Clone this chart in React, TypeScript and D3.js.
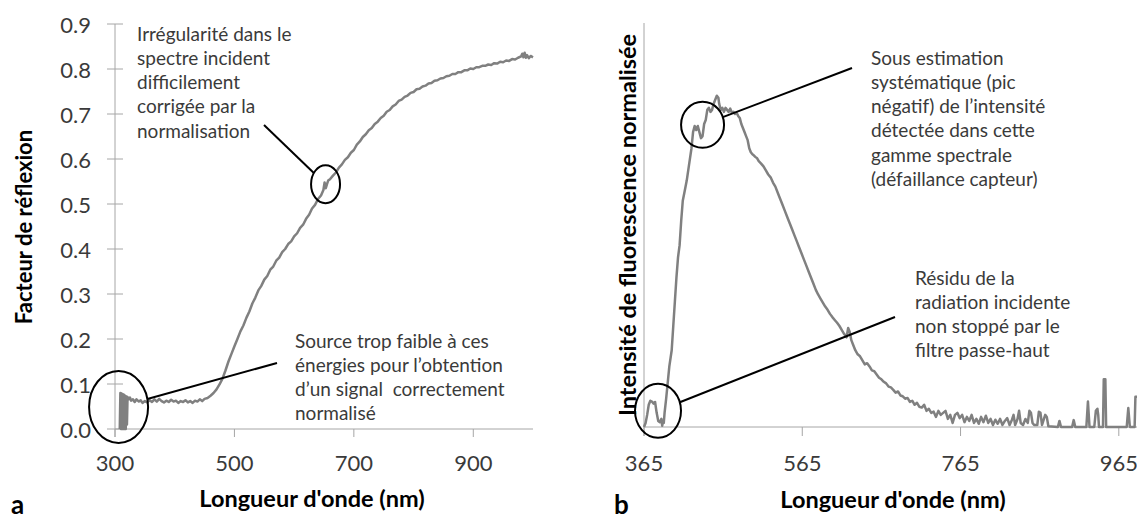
import React from "react";
import * as d3 from "d3";

// ---------- Data ----------
// Panel a: reflectance factor vs wavelength (nm)
const reflectance: [number, number][] = [
  [308, 0], [309, 0.08], [310, 0], [311, 0.079], [312, 0], [313, 0.077], [314, 0], [315, 0.076],
  [316, 0], [317, 0.074], [318, 0], [319, 0.072], [320, 0.01], [321, 0.071],
  [323, 0.066], [325, 0.07], [327, 0.063], [330, 0.066], [333, 0.06], [336, 0.066], [340, 0.061],
  [343, 0.064], [346, 0.058], [350, 0.062], [354, 0.059], [358, 0.064], [362, 0.06], [366, 0.066],
  [370, 0.061], [374, 0.067], [378, 0.062], [382, 0.059], [386, 0.063], [390, 0.06], [394, 0.065],
  [398, 0.061], [402, 0.063], [406, 0.058], [410, 0.062], [414, 0.06], [418, 0.064], [422, 0.059],
  [426, 0.062], [430, 0.058], [434, 0.063], [438, 0.061], [442, 0.066], [446, 0.062], [450, 0.067],
  [455, 0.069], [460, 0.074], [465, 0.08], [470, 0.088], [475, 0.099], [480, 0.112], [485, 0.13],
  [490, 0.15], [495, 0.167], [500, 0.184], [505, 0.2], [510, 0.217], [515, 0.23], [520, 0.247],
  [525, 0.261], [530, 0.279], [535, 0.292], [540, 0.308], [545, 0.318], [550, 0.332], [555, 0.34],
  [560, 0.354], [565, 0.361], [570, 0.374], [575, 0.381], [580, 0.393], [585, 0.4], [590, 0.411],
  [595, 0.417], [600, 0.428], [605, 0.435], [610, 0.447], [615, 0.454], [620, 0.467], [625, 0.476],
  [630, 0.49], [635, 0.498], [640, 0.511], [645, 0.519], [649, 0.531], [651, 0.548], [653, 0.535],
  [655, 0.544], [657, 0.552], [660, 0.555], [665, 0.563], [670, 0.57], [675, 0.581], [680, 0.588],
  [685, 0.598], [690, 0.604], [695, 0.614], [700, 0.62], [705, 0.632], [710, 0.639], [715, 0.649],
  [720, 0.655], [725, 0.664], [730, 0.669], [735, 0.678], [740, 0.683], [745, 0.691], [750, 0.696],
  [755, 0.705], [760, 0.709], [765, 0.717], [770, 0.721], [775, 0.729], [780, 0.732], [785, 0.738],
  [790, 0.741], [795, 0.747], [800, 0.749], [805, 0.755], [810, 0.756], [815, 0.761], [820, 0.763],
  [825, 0.768], [830, 0.769], [835, 0.774], [840, 0.775], [845, 0.779], [850, 0.78], [855, 0.784],
  [860, 0.785], [865, 0.789], [870, 0.789], [875, 0.793], [880, 0.793], [885, 0.797], [890, 0.797],
  [895, 0.801], [900, 0.8], [905, 0.804], [910, 0.804], [915, 0.807], [920, 0.807], [925, 0.81],
  [930, 0.809], [935, 0.813], [940, 0.812], [945, 0.816], [950, 0.815], [955, 0.819], [960, 0.818],
  [965, 0.822], [970, 0.821], [975, 0.825], [980, 0.828], [982, 0.834], [984, 0.826], [986, 0.836],
  [988, 0.825], [990, 0.831], [993, 0.824], [996, 0.829], [1000, 0.826],
];
const reflXTicks = [300, 500, 700, 900];
const reflYTicks = [0, 0.1, 0.2, 0.3, 0.4, 0.5, 0.6, 0.7, 0.8, 0.9];

// Panel b: normalised fluorescence intensity vs wavelength (nm)
const fluorescence: [number, number][] = [
  [365, 0], [367, 0.01], [369, 0.03], [371, 0.055], [373, 0.065], [375, 0.063], [377, 0.058],
  [379, 0.062], [381, 0.035], [383, 0.015], [385, 0.012], [387, 0.02], [388, 0.003], [389, 0.015],
  [390, 0.01], [391, 0.035], [393, 0.07], [395, 0.11], [397, 0.15], [400, 0.19], [402, 0.25],
  [404, 0.31], [406, 0.37], [408, 0.42], [410, 0.45], [412, 0.51], [414, 0.56], [416, 0.58],
  [419, 0.61], [422, 0.65], [425, 0.69], [427, 0.73], [429, 0.745], [431, 0.735], [433, 0.745],
  [435, 0.73], [437, 0.715], [439, 0.72], [441, 0.75], [443, 0.76], [445, 0.785], [447, 0.79],
  [449, 0.78], [451, 0.785], [453, 0.8], [455, 0.81], [457, 0.82], [459, 0.815], [460, 0.8],
  [462, 0.785], [464, 0.79], [466, 0.78], [468, 0.79], [470, 0.785], [472, 0.78], [474, 0.788],
  [476, 0.778], [478, 0.78], [480, 0.775], [482, 0.778], [484, 0.77], [486, 0.765], [488, 0.75],
  [490, 0.74], [492, 0.73], [494, 0.72], [496, 0.71], [498, 0.69], [500, 0.68], [502, 0.675],
  [504, 0.672], [506, 0.668], [508, 0.665], [510, 0.658], [513, 0.652], [516, 0.645], [519, 0.635],
  [522, 0.625], [525, 0.618], [528, 0.605], [531, 0.595], [534, 0.58], [537, 0.565], [540, 0.55],
  [543, 0.535], [546, 0.52], [549, 0.505], [552, 0.49], [555, 0.475], [558, 0.46], [561, 0.445],
  [564, 0.43], [567, 0.415], [570, 0.4], [573, 0.385], [576, 0.37], [579, 0.355], [582, 0.34],
  [585, 0.328], [588, 0.318], [591, 0.308], [594, 0.298], [597, 0.29], [600, 0.28], [603, 0.272],
  [606, 0.265], [609, 0.258], [612, 0.25], [615, 0.24], [618, 0.23], [621, 0.222], [623, 0.245],
  [625, 0.235], [627, 0.215], [629, 0.205], [632, 0.19], [635, 0.18], [638, 0.175], [641, 0.165],
  [644, 0.155], [647, 0.158], [650, 0.15], [653, 0.14], [656, 0.138], [659, 0.13], [662, 0.122],
  [665, 0.118], [668, 0.112], [671, 0.108], [674, 0.1], [677, 0.098], [680, 0.092], [683, 0.085],
  [686, 0.088], [689, 0.078], [692, 0.076], [695, 0.07], [698, 0.072], [701, 0.062], [704, 0.065],
  [707, 0.055], [710, 0.06], [713, 0.05], [716, 0.048], [719, 0.055], [722, 0.04], [725, 0.045],
  [728, 0.035], [731, 0.038], [734, 0.025], [737, 0.04], [740, 0.03], [743, 0.035], [746, 0.04],
  [749, 0.02], [752, 0.03], [755, 0.01], [758, 0.03], [761, 0.035], [764, 0.022], [767, 0.03],
  [770, 0.012], [773, 0.025], [776, 0.015], [779, 0.03], [782, 0.01], [785, 0.02], [788, 0.008],
  [791, 0.025], [794, 0.012], [797, 0.028], [800, 0.01], [803, 0.02], [806, 0.005], [809, 0.018],
  [812, 0.008], [815, 0.02], [818, 0.005], [821, 0.015], [824, 0.022], [827, 0.005], [830, 0.018],
  [832, 0.03], [834, 0.005], [837, 0.02], [839, 0.04], [841, 0.01], [844, 0.005], [847, 0.02],
  [850, 0.01], [852, 0.04], [854, 0.035], [856, 0.01], [858, 0.005], [862, 0.005], [864, 0.038],
  [866, 0.035], [868, 0.005], [872, 0.03], [874, 0.025], [876, 0.002], [888, 0], [890, 0.015],
  [892, 0], [906, 0], [908, 0.017], [910, 0], [924, 0], [926, 0.063], [928, 0], [934, 0],
  [936, 0.04], [938, 0.045], [939, 0.03], [940, 0], [945, 0], [946, 0.118], [948, 0.118],
  [949, 0], [975, 0], [977, 0.047], [979, 0], [985, 0], [986, 0.075], [988, 0.075],
];
const fluoXTicks = [365, 565, 765, 965];

// Annotation texts
const noteIrregularity = ["Irrégularité dans le", "spectre incident", "difficilement", "corrigée par la", "normalisation"];
const noteSource = ["Source trop faible à ces", "énergies pour l’obtention", "d’un signal  correctement", "normalisé"];
const noteUnder = ["Sous estimation", "systématique (pic", "négatif) de l’intensité", "détectée dans cette", "gamme spectrale", "(défaillance capteur)"];
const noteResidue = ["Résidu de la", "radiation incidente", "non stoppé par le", "filtre passe-haut"];

// ---------- Styling ----------
const FONT = "Lato, 'Open Sans', sans-serif";
const CURVE = "#808080";
const AXIS = "#a6a6a6";
const TEXT = "#3a3a3a";
const LINE_H = 24.3;

type Ann = {
  lines: string[];
  tx: number;
  ty: number;
  anchor: [number, number];
  cx: number;
  cy: number;
  rx: number;
  ry: number;
};

function Annotation({ a }: { a: Ann }) {
  const dx = a.anchor[0] - a.cx;
  const dy = a.anchor[1] - a.cy;
  const s = 1 / Math.sqrt((dx / a.rx) ** 2 + (dy / a.ry) ** 2);
  const ex = a.cx + dx * s;
  const ey = a.cy + dy * s;
  return (
    <g>
      <ellipse cx={a.cx} cy={a.cy} rx={a.rx} ry={a.ry} fill="none" stroke="#000" strokeWidth={2} />
      <line x1={a.anchor[0]} y1={a.anchor[1]} x2={ex} y2={ey} stroke="#000" strokeWidth={2} />
      <text fontFamily={FONT} fontSize={19} fill={TEXT}>
        {a.lines.map((l, i) => (
          <tspan key={i} x={a.tx} y={a.ty + i * LINE_H} dominantBaseline="central" style={{ whiteSpace: "pre" }}>
            {l}
          </tspan>
        ))}
      </text>
    </g>
  );
}

export default function App() {
  const W = 1137;
  const H = 519;

  // Panel a scales
  const xa = d3.scaleLinear().domain([300, 1000]).range([115, 533]);
  const ya = d3.scaleLinear().domain([0, 0.9]).range([429, 24]);
  const lineA = d3
    .line<[number, number]>()
    .x((d) => xa(d[0]))
    .y((d) => ya(d[1]));

  // Panel b scales
  const xb = d3.scaleLinear().domain([365, 988]).range([644, 1137]);
  const yb = d3.scaleLinear().domain([0, 1]).range([427, 23]);
  const lineB = d3
    .line<[number, number]>()
    .x((d) => xb(d[0]))
    .y((d) => yb(d[1]));

  const fmt = d3.format(".1f");

  const anns: Ann[] = [
    {
      lines: noteIrregularity,
      tx: 137,
      ty: 33,
      anchor: [264, 125],
      cx: xa(652.6),
      cy: ya(0.544),
      rx: 14.5,
      ry: 19,
    },
    {
      lines: noteSource,
      tx: 295,
      ty: 340,
      anchor: [277, 363],
      cx: xa(306),
      cy: ya(0.049),
      rx: 29.5,
      ry: 36,
    },
    {
      lines: noteUnder,
      tx: 871,
      ty: 57,
      anchor: [852, 68],
      cx: xb(439),
      cy: yb(0.748),
      rx: 21.5,
      ry: 23,
    },
    {
      lines: noteResidue,
      tx: 915,
      ty: 277,
      anchor: [895, 317],
      cx: xb(382.7),
      cy: yb(0.04),
      rx: 23,
      ry: 27,
    },
  ];

  return (
    <svg width={W} height={H} style={{ position: "absolute", left: 0, top: 0, background: "#fff" }}>
      {/* ---------- Panel a ---------- */}
      <g>
        <line x1={xa(300)} x2={xa(300)} y1={ya(0.9)} y2={ya(0) + 8} stroke={AXIS} strokeWidth={1} />
        {reflYTicks.map((t) => (
          <g key={t}>
            <line x1={xa(300) - 8} x2={xa(300) + 8} y1={ya(t)} y2={ya(t)} stroke={AXIS} strokeWidth={1} />
            <text
              x={91}
              y={ya(t)}
              textAnchor="end"
              dominantBaseline="central"
              fontFamily={FONT}
              fontSize={22}
              fill={TEXT}
            >
              {fmt(t)}
            </text>
          </g>
        ))}
        <line x1={xa(300)} x2={xa(1000)} y1={ya(0)} y2={ya(0)} stroke={AXIS} strokeWidth={1} />
        {reflXTicks.map((t) => (
          <g key={t}>
            <line x1={xa(t)} x2={xa(t)} y1={ya(0)} y2={ya(0) + 8} stroke={AXIS} strokeWidth={1} />
            <text
              x={xa(t)}
              y={462}
              textAnchor="middle"
              dominantBaseline="central"
              fontFamily={FONT}
              fontSize={22}
              fill={TEXT}
            >
              {t}
            </text>
          </g>
        ))}
        <path d={lineA(reflectance) ?? ""} fill="none" stroke={CURVE} strokeWidth={2.5} strokeLinejoin="round" />
        <text
          x={312}
          y={498}
          textAnchor="middle"
          dominantBaseline="central"
          fontFamily={FONT}
          fontSize={23.5}
          fontWeight="bold"
          fill="#000"
        >
          Longueur d'onde (nm)
        </text>
        <text
          transform={`translate(23,227) rotate(-90)`}
          textAnchor="middle"
          dominantBaseline="central"
          fontFamily={FONT}
          fontSize={22}
          fontWeight="bold"
          fill="#000"
        >
          Facteur de réflexion
        </text>
        <text x={11} y={514} fontFamily={FONT} fontSize={26} fontWeight="bold" fill="#000">
          a
        </text>
      </g>

      {/* ---------- Panel b ---------- */}
      <g>
        <line x1={xb(365)} x2={xb(365)} y1={yb(1)} y2={yb(0) + 9} stroke={AXIS} strokeWidth={1} />
        <line x1={xb(365)} x2={xb(988)} y1={yb(0)} y2={yb(0)} stroke={AXIS} strokeWidth={1} />
        {fluoXTicks.map((t) => (
          <g key={t}>
            <line x1={xb(t)} x2={xb(t)} y1={yb(0)} y2={yb(0) + 9} stroke={AXIS} strokeWidth={1} />
            <text
              x={xb(t)}
              y={462}
              textAnchor="middle"
              dominantBaseline="central"
              fontFamily={FONT}
              fontSize={22}
              fill={TEXT}
            >
              {t}
            </text>
          </g>
        ))}
        <path d={lineB(fluorescence) ?? ""} fill="none" stroke={CURVE} strokeWidth={2.5} strokeLinejoin="round" />
        <text
          x={893}
          y={499}
          textAnchor="middle"
          dominantBaseline="central"
          fontFamily={FONT}
          fontSize={23.5}
          fontWeight="bold"
          fill="#000"
        >
          Longueur d'onde (nm)
        </text>
        <text
          transform={`translate(627,225) rotate(-90)`}
          textAnchor="middle"
          dominantBaseline="central"
          fontFamily={FONT}
          fontSize={23.5}
          fontWeight="bold"
          fill="#000"
        >
          Intensité de fluorescence normalisée
        </text>
        <text x={614} y={514} fontFamily={FONT} fontSize={26} fontWeight="bold" fill="#000">
          b
        </text>
      </g>

      {anns.map((a, i) => (
        <Annotation key={i} a={a} />
      ))}
    </svg>
  );
}
